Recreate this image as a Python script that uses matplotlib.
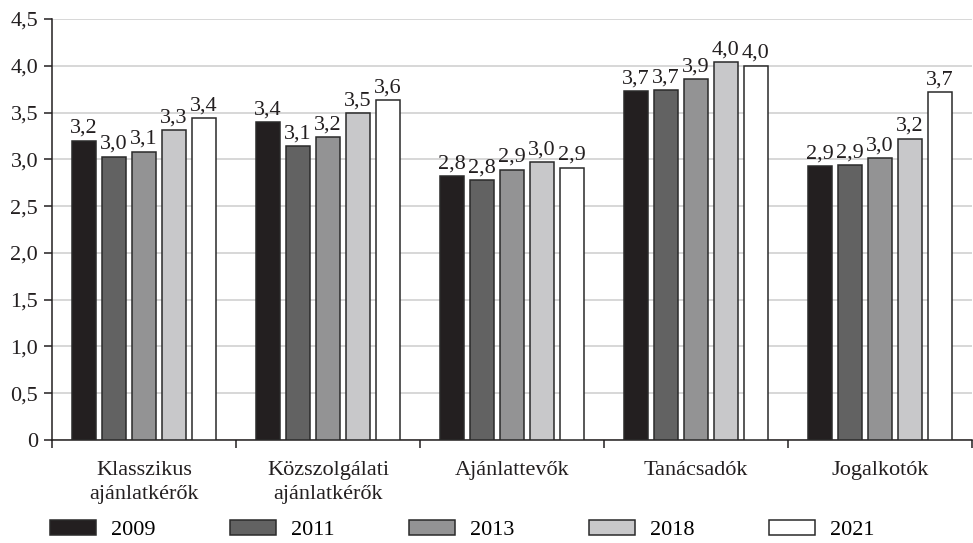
import matplotlib
matplotlib.use("Agg")
import matplotlib.pyplot as plt
import numpy as np

categories = ["Klasszikus\najánlatkérők", "Közszolgálati\najánlatkérők",
              "Ajánlattevők", "Tanácsadók", "Jogalkotók"]
years = ["2009", "2011", "2013", "2018", "2021"]
v2009 = [3.20, 3.40, 2.82, 3.73, 2.93]
v2011 = [3.03, 3.14, 2.78, 3.74, 2.94]
v2013 = [3.08, 3.24, 2.89, 3.86, 3.01]
v2018 = [3.31, 3.49, 2.97, 4.04, 3.22]
v2021 = [3.44, 3.63, 2.91, 4.00, 3.72]
series = [v2009, v2011, v2013, v2018, v2021]
colors = ["#231f20", "#626262", "#939394", "#c8c8ca", "#ffffff"]
yticks = [0, 0.5, 1.0, 1.5, 2.0, 2.5, 3.0, 3.5, 4.0, 4.5]

plt.rcParams['font.family'] = ['Liberation Serif', 'DejaVu Serif']
fs = 16

fig = plt.figure(figsize=(9.73, 5.43), dpi=100)
ax = fig.add_axes([52/973, 1-440/543, 920/973, 421/543])

x = np.arange(len(categories))
step = 30/184
width = 24/184
for i, (vals, col) in enumerate(zip(series, colors)):
    pos = x + (i - 2) * step
    bars = ax.bar(pos, vals, width=width, color=col, edgecolor="#2a2a2a",
                  linewidth=1.1, label=years[i], zorder=3)
    for b, v in zip(bars, vals):
        ax.text(b.get_x() + b.get_width()/2, v + 0.03,
                f"{v:.1f}".replace('.', ','), ha='center', va='bottom',
                fontsize=fs, color="#231f20", zorder=4)

ax.set_xlim(-0.5, len(categories) - 0.5)
ax.set_ylim(0, 4.5)
ax.set_yticks(yticks)
ax.set_yticklabels(["0" if t == 0 else f"{t:.1f}".replace('.', ',') for t in yticks],
                   fontsize=fs, color="#231f20")
ax.yaxis.grid(True, color="#d4d4d4", linewidth=1.3, zorder=0)
ax.set_axisbelow(True)
ax.set_xticks(x)
ax.set_xticklabels(categories, fontsize=fs, color="#231f20", linespacing=1.35)
ax.tick_params(axis='x', which='major', length=0, pad=15)
ax.set_xticks(np.arange(-0.5, len(categories)), minor=True)
ax.tick_params(axis='x', which='minor', length=6, width=1.1, color="#231f20", direction='out')
ax.tick_params(axis='y', length=6, width=1.1, color="#231f20", direction='out', pad=4)
for s in ['top', 'right']:
    ax.spines[s].set_visible(False)
for s in ['left', 'bottom']:
    ax.spines[s].set_color("#231f20")
    ax.spines[s].set_linewidth(1.1)

leg = fig.legend(loc='center', bbox_to_anchor=(0.475, 1-530/543), ncol=5,
                 frameon=False, fontsize=fs, handlelength=2.07, handleheight=0.63,
                 handletextpad=0.68, columnspacing=3.35, borderaxespad=0)
fig.savefig("out.png", dpi=100)
